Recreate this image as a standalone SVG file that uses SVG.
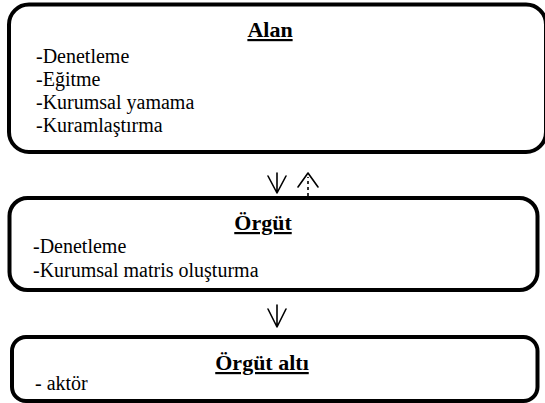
<svg xmlns="http://www.w3.org/2000/svg" width="545" height="403" viewBox="0 0 545 403">
  <style>
    .box { fill: #fff; stroke: #000; stroke-width: 4; }
    .title { font-size: 22px; font-weight: bold; text-anchor: middle; text-decoration: underline; fill: #000; }
    .item { font-size: 20px; fill: #000; }
    .arrow { fill: none; stroke: #000; stroke-width: 1.6; stroke-linecap: round; stroke-linejoin: round; }
    .dashed { stroke-dasharray: 3 3; stroke-linecap: butt; }
  </style>
  <rect width="545" height="403" fill="#fff"/>

  <g font-family="Liberation Serif, Times New Roman, Times, serif">
  <g id="alan">
    <rect class="box" x="9" y="4.5" width="537" height="147.5" rx="20"/>
    <text class="title" x="270" y="37">Alan</text>
    <text class="item" x="36" y="62.5">-Denetleme</text>
    <text class="item" x="36" y="85.5">-Eğitme</text>
    <text class="item" x="36" y="108.5">-Kurumsal yamama</text>
    <text class="item" x="36" y="131.5">-Kuramlaştırma</text>
  </g>

  <g id="orgut">
    <rect class="box" x="9.5" y="198" width="528" height="92" rx="18"/>
    <text class="title" x="263" y="230">Örgüt</text>
    <text class="item" x="33" y="253">-Denetleme</text>
    <text class="item" x="33" y="277">-Kurumsal matris oluşturma</text>
  </g>

  <g id="orgut-alti">
    <rect class="box" x="12" y="337" width="525.5" height="64" rx="14"/>
    <text class="title" x="262" y="370">Örgüt altı</text>
    <text class="item" x="35" y="390">- aktör</text>
  </g>
  </g>

  <g id="connectors">
    <!-- Alan to Örgüt -->
    <path class="arrow" d="M277 173 V193 M268 176 L277 193 L286 176"/>
    <!-- Örgüt back to Alan (dashed stem) -->
    <path class="arrow dashed" d="M308 196 V177"/>
    <path class="arrow" d="M298 187 L308 173 L318 187"/>
    <!-- Örgüt to Örgüt altı -->
    <path class="arrow" d="M277 305 V327 M268 309 L277 327 L286 309"/>
  </g>
</svg>
